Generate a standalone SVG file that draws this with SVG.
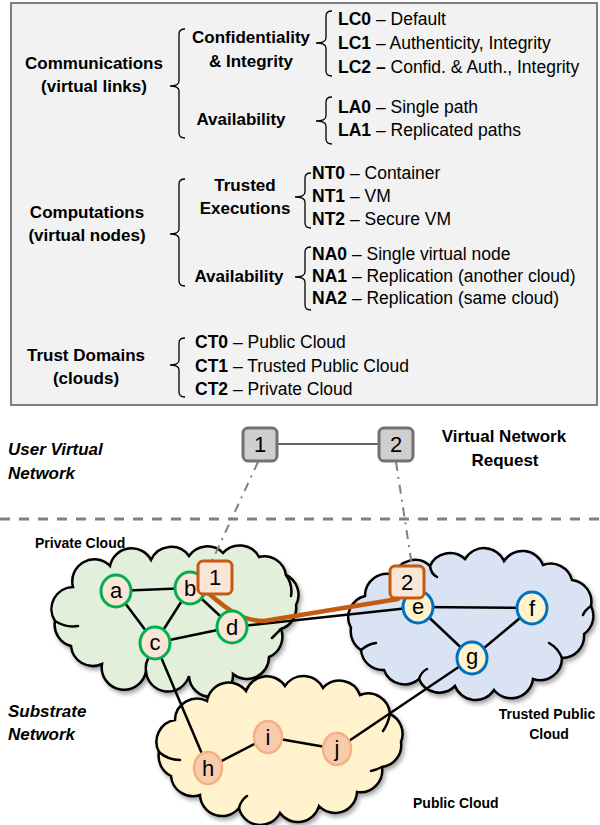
<svg xmlns="http://www.w3.org/2000/svg" width="600" height="825" viewBox="0 0 600 825">
<style>
text{font-family:"Liberation Sans",Arial,sans-serif;font-size:17px;fill:#000}
.e{font-size:17.5px}
.b{font-weight:bold}
.bi{font-weight:bold;font-style:italic}
.c{text-anchor:middle}
.cl{font-size:14px;font-weight:bold}
.n{font-size:22px;text-anchor:middle}
.brace{fill:none;stroke:#000;stroke-width:1.3}
.edge{stroke:#000;stroke-width:2.5;fill:none}
.cloud{stroke:#000;stroke-width:2.5;filter:url(#sh)}
.inner{fill:none;stroke:#000;stroke-width:2.5;stroke-linecap:round}
.gn{fill:#fbe5d6;stroke:#00b050;stroke-width:3}
.bn{fill:#fff2cc;stroke:#0070c0;stroke-width:3}
.yn{fill:#f8cbad;stroke:#f4b183;stroke-width:2.5}
.vn{fill:#d0cece;stroke:#767171;stroke-width:3}
.mn{fill:#fbe5d6;stroke:#c55a11;stroke-width:3}
.dd{stroke:#808080;stroke-width:2;stroke-dasharray:9 6 2 6;fill:none}
</style>
<defs>
<filter id="sh" x="-10%" y="-10%" width="120%" height="130%">
<feDropShadow dx="2" dy="3" stdDeviation="2" flood-color="#000" flood-opacity="0.35"/>
</filter>
</defs>

<g id="legend">
<rect x="11" y="3" width="586" height="402" fill="#f2f2f2" stroke="#7f7f7f" stroke-width="2"/>
<g id="braces">
<path class="brace" d="M185,29 Q179,29 179,34 L179,81 Q179,86 170,86 Q179,86 179,91 L179,133 Q179,138 185,138"/>
<path class="brace" d="M332,11 Q326,11 326,16 L326,38 Q326,43 316,43 Q326,43 326,48 L326,71 Q326,76 332,76"/>
<path class="brace" d="M332,97 Q326,97 326,102 L326,116 Q326,121 316,121 Q326,121 326,126 L326,139 Q326,144 332,144"/>
<path class="brace" d="M311,173 Q305,173 305,178 L305,192 Q305,197 295,197 Q305,197 305,202 L305,223 Q305,228 311,228"/>
<path class="brace" d="M185,179 Q179,179 179,184 L179,229 Q179,234 170,234 Q179,234 179,239 L179,281 Q179,286 185,286"/>
<path class="brace" d="M311,247 Q305,247 305,252 L305,272 Q305,277 295,277 Q305,277 305,282 L305,305 Q305,310 311,310"/>
<path class="brace" d="M185,338 Q179,338 179,343 L179,360 Q179,365 170,365 Q179,365 179,370 L179,392 Q179,397 185,397"/>
</g>
<text class="b c" x="94" y="69">Communications</text>
<text class="b c" x="94" y="92">(virtual links)</text>
<text class="b c" x="251" y="43">Confidentiality</text>
<text class="b c" x="251" y="67">&amp; Integrity</text>
<text class="b c" x="241" y="125">Availability</text>
<text class="e" x="338" y="25"><tspan class="b">LC0</tspan> – Default</text>
<text class="e" x="338" y="49"><tspan class="b">LC1</tspan> – Authenticity, Integrity</text>
<text class="e" x="338" y="73"><tspan class="b">LC2 –</tspan> Confid. &amp; Auth., Integrity</text>
<text class="e" x="338" y="113"><tspan class="b">LA0</tspan> – Single path</text>
<text class="e" x="338" y="136"><tspan class="b">LA1</tspan> – Replicated paths</text>

<text class="b c" x="87" y="218">Computations</text>
<text class="b c" x="87" y="241">(virtual nodes)</text>
<text class="b c" x="245" y="191">Trusted</text>
<text class="b c" x="245" y="214">Executions</text>
<text class="b c" x="239" y="282">Availability</text>
<text class="e" x="312" y="179"><tspan class="b">NT0</tspan> – Container</text>
<text class="e" x="312" y="202"><tspan class="b">NT1</tspan> – VM</text>
<text class="e" x="312" y="225"><tspan class="b">NT2</tspan> – Secure VM</text>
<text class="e" x="312" y="260"><tspan class="b">NA0</tspan> – Single virtual node</text>
<text class="e" x="312" y="282"><tspan class="b">NA1</tspan> – Replication (another cloud)</text>
<text class="e" x="312" y="304"><tspan class="b">NA2</tspan> – Replication (same cloud)</text>

<text class="b c" x="86" y="361">Trust Domains</text>
<text class="b c" x="86" y="384">(clouds)</text>
<text class="e" x="195" y="348"><tspan class="b">CT0</tspan> – Public Cloud</text>
<text class="e" x="195" y="372"><tspan class="b">CT1</tspan> – Trusted Public Cloud</text>
<text class="e" x="195" y="395"><tspan class="b">CT2</tspan> – Private Cloud</text>
</g>

<line x1="0" y1="519" x2="600" y2="519" stroke="#808080" stroke-width="3" stroke-dasharray="10 9"/>

<text class="bi" x="8" y="455">User Virtual</text>
<text class="bi" x="8" y="479">Network</text>
<text class="b c" x="504" y="442">Virtual Network</text>
<text class="b c" x="505" y="466">Request</text>
<text class="bi" x="8" y="717">Substrate</text>
<text class="bi" x="8" y="740">Network</text>

<g id="private-cloud">
<path class="cloud" fill="#e2efda" d="M55,621 A22,22 0 0 1 73,587 A22,22 0 0 1 110,566 A22,22 0 0 1 151,560 A22,22 0 0 1 189,556 A22,22 0 0 1 223,553 A22,22 0 0 1 259,557 A22,22 0 0 1 286,575 A22,22 0 0 1 296,605 A22,22 0 0 1 281,629 A22,22 0 0 1 269,657 A22,22 0 0 1 233,674 A22,22 0 0 1 189,676 A22,22 0 0 1 146,671 A22,22 0 0 1 102,664 A22,22 0 0 1 71,646 A22,22 0 0 1 55,621 Z"/>
<path class="inner" d="M55,621 Q66,628 78,626 M286,575 Q293,585 291,596 M146,671 Q145,664 148,659 M281,629 Q276,634 272,638"/>
<text class="cl" x="35" y="548">Private Cloud</text>
</g>
<g id="trusted-cloud">
<path class="cloud" fill="#dae3f3" d="M351,628 A22,22 0 0 1 365,596 A22,22 0 0 1 394,575 A22,22 0 0 1 430,566 A22,22 0 0 1 465,559 A22,22 0 0 1 504,561 A22,22 0 0 1 543,565 A22,22 0 0 1 572,580 A22,22 0 0 1 591,606 A22,22 0 0 1 584,634 A22,22 0 0 1 562,658 A22,22 0 0 1 533,679 A22,22 0 0 1 494,690 A22,22 0 0 1 455,686 A22,22 0 0 1 419,679 A22,22 0 0 1 384,670 A22,22 0 0 1 361,650 A22,22 0 0 1 351,628 Z"/>
<path class="inner" d="M430,566 Q431,574 437,577 M361,650 Q368,644 376,643 M562,658 Q558,648 549,643 M419,679 Q421,672 427,669 M591,606 Q585,610 583,615"/>
<text class="cl c" x="547" y="719">Trusted Public</text>
<text class="cl c" x="549" y="739">Cloud</text>
</g>
<g id="public-cloud">
<path class="cloud" fill="#fff2cc" d="M159,752 A22,22 0 0 1 175,720 A22,22 0 0 1 207,701 A22,22 0 0 1 246,691 A22,22 0 0 1 285,686 A22,22 0 0 1 323,688 A22,22 0 0 1 360,695 A22,22 0 0 1 390,714 A22,22 0 0 1 401,742 A22,22 0 0 1 382,767 A22,22 0 0 1 357,792 A22,22 0 0 1 319,806 A22,22 0 0 1 280,813 A22,22 0 0 1 239,808 A22,22 0 0 1 200,795 A22,22 0 0 1 171,776 A22,22 0 0 1 159,752 Z"/>
<path class="inner" d="M159,752 Q168,760 180,760 M390,714 Q388,724 383,731 M239,808 Q241,800 247,796 M382,767 Q376,770 371,771"/>
<text class="cl" x="413" y="808">Public Cloud</text>
</g>

<g id="connectors">
<line class="edge" x1="116" y1="591" x2="190" y2="588"/>
<line class="edge" x1="116" y1="591" x2="155" y2="643"/>
<line class="edge" x1="190" y1="588" x2="155" y2="643"/>
<line class="edge" x1="190" y1="588" x2="232" y2="627"/>
<line class="edge" x1="155" y1="643" x2="232" y2="627"/>
<line class="edge" x1="232" y1="627" x2="418" y2="607"/>
<line class="edge" x1="418" y1="607" x2="532" y2="608"/>
<line class="edge" x1="418" y1="607" x2="472" y2="658"/>
<line class="edge" x1="532" y1="608" x2="472" y2="658"/>
<line class="edge" x1="155" y1="643" x2="208" y2="768"/>
<line class="edge" x1="208" y1="768" x2="268" y2="737"/>
<line class="edge" x1="268" y1="737" x2="337" y2="749"/>
<line class="edge" x1="337" y1="749" x2="472" y2="658"/>
<line x1="277" y1="444" x2="379" y2="444" stroke="#666" stroke-width="2"/>
<line class="dd" x1="258" y1="462" x2="212" y2="561"/>
<line class="dd" x1="396" y1="462" x2="412" y2="566"/>
<path d="M208,593 C228,610 242,621 264,621 L398,599" fill="none" stroke="#c55a11" stroke-width="4.5" stroke-linecap="round"/>
</g>

<g id="node-a"><ellipse class="gn" cx="116" cy="591" rx="15" ry="16"/><text class="n" x="116" y="598">a</text></g>
<g id="node-b"><ellipse class="gn" cx="190" cy="588" rx="15" ry="16"/><text class="n" x="190" y="596">b</text></g>
<g id="node-c"><ellipse class="gn" cx="155" cy="643" rx="15" ry="16"/><text class="n" x="155" y="650">c</text></g>
<g id="node-d"><ellipse class="gn" cx="232" cy="627" rx="15" ry="16"/><text class="n" x="232" y="635">d</text></g>
<g id="node-e"><ellipse class="bn" cx="418" cy="607" rx="15" ry="16"/><text class="n" x="418" y="614">e</text></g>
<g id="node-f"><ellipse class="bn" cx="532" cy="608" rx="15" ry="16"/><text class="n" x="532" y="616">f</text></g>
<g id="node-g"><ellipse class="bn" cx="472" cy="658" rx="15" ry="16"/><text class="n" x="472" y="664">g</text></g>
<g id="node-h"><ellipse class="yn" cx="208" cy="768" rx="14" ry="16"/><text class="n" x="208" y="776">h</text></g>
<g id="node-i"><ellipse class="yn" cx="268" cy="737" rx="14" ry="16"/><text class="n" x="268" y="745">i</text></g>
<g id="node-j"><ellipse class="yn" cx="337" cy="749" rx="14" ry="16"/><text class="n" x="337" y="756">j</text></g>

<g id="map-1"><rect class="mn" x="198" y="561" width="34" height="33" rx="5"/><text class="n" x="215" y="585">1</text></g>
<g id="map-2"><rect class="mn" x="390" y="566" width="34" height="32" rx="5"/><text class="n" x="407" y="590">2</text></g>

<g id="vnode-1"><rect class="vn" x="243" y="428" width="34" height="33" rx="5"/><text class="n" x="260" y="452">1</text></g>
<g id="vnode-2"><rect class="vn" x="379" y="428" width="34" height="33" rx="5"/><text class="n" x="396" y="452">2</text></g>
</svg>
